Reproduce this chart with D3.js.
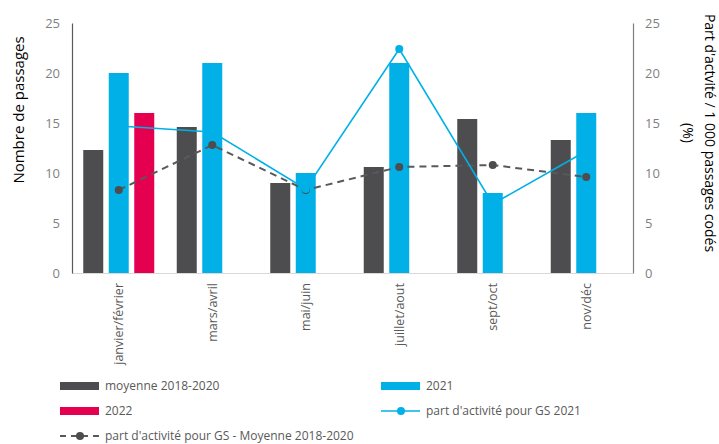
<!DOCTYPE html>
<html>
<head>
<meta charset="utf-8">
<script src="https://cdn.jsdelivr.net/npm/d3@7"></script>
<style>
  body { margin: 0; background: #fff; }
  svg { display: block; font-family: "Open Sans", sans-serif; }
</style>
</head>
<body>
<svg id="chart" width="719" height="444"></svg>
<script>
// Bimonthly periods
const periods = ["janvier/février", "mars/avril", "mai/juin", "juillet/aout", "sept/oct", "nov/déc"];

// Number of visits (left axis)
const moyenne2018_2020 = [12.3, 14.6, 9.0, 10.6, 15.4, 13.3];
const annee2021 = [20, 21, 10, 21, 8, 16];
const annee2022 = [16, null, null, null, null, null];

// Activity share per 1 000 coded visits, % (right axis)
const partGS2021 = [14.7, 14.1, 8.4, 22.4, 6.9, 12.2];
const partGSMoyenne = [8.3, 12.8, 8.3, 10.6, 10.8, 9.6];

const yTicks = [0, 5, 10, 15, 20, 25];

const barSeries = [
  { key: "moy", name: "moyenne 2018-2020", values: moyenne2018_2020, color: "#4d4d4f" },
  { key: "y21", name: "2021", values: annee2021, color: "#00b0e6" },
  { key: "y22", name: "2022", values: annee2022, color: "#e5004f" }
];

const svg = d3.select("#chart");
const plotL = 72, plotR = 633, plotT = 23, plotB = 273;

const x = d3.scaleBand().domain(periods).range([plotL, plotR]).paddingInner(0).paddingOuter(0);
const xSub = d3.scaleBand().domain(barSeries.map(s => s.key)).range([-35.5, 35.5]).paddingInner(0.216).paddingOuter(0);
const yL = d3.scaleLinear().domain([0, 25]).range([plotB, plotT]);
const yR = d3.scaleLinear().domain([0, 25]).range([plotB, plotT]);
const cx = d => x(d) + x.bandwidth() / 2;

// Bottom baseline
svg.append("line")
  .attr("x1", plotL).attr("x2", plotR)
  .attr("y1", plotB + 0.5).attr("y2", plotB + 0.5)
  .attr("stroke", "#d9d9d9").attr("stroke-width", 1);

// Bars
barSeries.forEach(s => {
  svg.append("g").selectAll("rect")
    .data(periods.map((p, i) => ({ p, v: s.values[i] })).filter(d => d.v != null))
    .join("rect")
    .attr("x", d => cx(d.p) + xSub(s.key))
    .attr("width", xSub.bandwidth())
    .attr("y", d => yL(d.v))
    .attr("height", d => yL(0) - yL(d.v))
    .attr("fill", s.color);
});

// Left axis
const axL = svg.append("g").attr("transform", `translate(${plotL},0)`)
  .call(d3.axisLeft(yL).tickValues(yTicks).tickSize(0).tickPadding(12));
axL.select(".domain").attr("stroke", "#595959").attr("stroke-width", 1.2);
axL.selectAll("text").attr("fill", "#7f7f7f").style("font-size", "13px").style("font-family", "Open Sans, sans-serif");

// Right axis
const axR = svg.append("g").attr("transform", `translate(${plotR},0)`)
  .call(d3.axisRight(yR).tickValues(yTicks).tickSize(0).tickPadding(12));
axR.select(".domain").attr("stroke", "#7f7f7f").attr("stroke-width", 1.2);
axR.selectAll("text").attr("fill", "#7f7f7f").style("font-size", "13px").style("font-family", "Open Sans, sans-serif");

// Category labels (vertical)
const axB = svg.append("g").attr("transform", `translate(0,${plotB})`)
  .call(d3.axisBottom(x).tickSize(0).tickPadding(0));
axB.select(".domain").remove();
axB.selectAll("text")
  .attr("fill", "#595959")
  .style("font-size", "12.5px").style("font-family", "Open Sans, sans-serif")
  .attr("text-anchor", "end")
  .attr("transform", "rotate(-90)")
  .attr("x", -10).attr("y", 0).attr("dy", "0.35em");

// Line: average activity share (dashed)
const lineGen = d3.line().x((d, i) => cx(periods[i])).y(d => yR(d));
svg.append("path").datum(partGSMoyenne)
  .attr("d", lineGen).attr("fill", "none")
  .attr("stroke", "#595959").attr("stroke-width", 2).attr("stroke-dasharray", "7,5");
svg.append("g").selectAll("circle").data(partGSMoyenne).join("circle")
  .attr("cx", (d, i) => cx(periods[i])).attr("cy", d => yR(d)).attr("r", 4)
  .attr("fill", "#4d4d4f");

// Line: activity share 2021
svg.append("path").datum(partGS2021)
  .attr("d", lineGen).attr("fill", "none")
  .attr("stroke", "#00b0e6").attr("stroke-width", 1.6);
svg.append("g").selectAll("circle").data(partGS2021).join("circle")
  .attr("cx", (d, i) => cx(periods[i])).attr("cy", d => yR(d)).attr("r", 4)
  .attr("fill", "#00b0e6");

// Axis titles
svg.append("text")
  .attr("transform", `translate(24,110) rotate(-90)`)
  .attr("text-anchor", "middle")
  .style("font-size", "15px").attr("fill", "#000")
  .text("Nombre de passages");

const rTitle = svg.append("text")
  .attr("transform", `translate(705,133) rotate(90)`)
  .attr("text-anchor", "middle")
  .style("font-size", "14px").attr("fill", "#000");
rTitle.append("tspan").attr("x", 0).attr("dy", 0).text("Part d'actvité / 1 000 passages codés");
rTitle.append("tspan").attr("x", 0).attr("dy", 22).text("(%)");

// Legend
const legendItems = [
  { type: "rect", color: "#4d4d4f", label: "moyenne 2018-2020", x: 60, y: 386 },
  { type: "rect", color: "#00b0e6", label: "2021", x: 381, y: 386 },
  { type: "rect", color: "#e5004f", label: "2022", x: 60, y: 411 },
  { type: "line", color: "#00b0e6", label: "part d'activité pour GS 2021", x: 381, y: 411 },
  { type: "dash", color: "#595959", label: "part d'activité pour GS - Moyenne 2018-2020", x: 60, y: 436 }
];
const lg = svg.append("g");
legendItems.forEach(it => {
  const g = lg.append("g").attr("transform", `translate(${it.x},${it.y})`);
  if (it.type === "rect") {
    g.append("rect").attr("x", 0).attr("y", -4).attr("width", 39).attr("height", 8).attr("fill", it.color);
  } else {
    g.append("line").attr("x1", 0).attr("x2", 39).attr("y1", 0).attr("y2", 0)
      .attr("stroke", it.color).attr("stroke-width", it.type === "dash" ? 2 : 1.6)
      .attr("stroke-dasharray", it.type === "dash" ? "6,5" : null);
    g.append("circle").attr("cx", 20).attr("cy", 0).attr("r", 4)
      .attr("fill", it.type === "dash" ? "#4d4d4f" : it.color);
  }
  g.append("text").attr("x", 45).attr("y", 0).attr("dy", "0.35em")
    .style("font-size", "12px").attr("fill", "#595959").text(it.label);
});
</script>
</body>
</html>
